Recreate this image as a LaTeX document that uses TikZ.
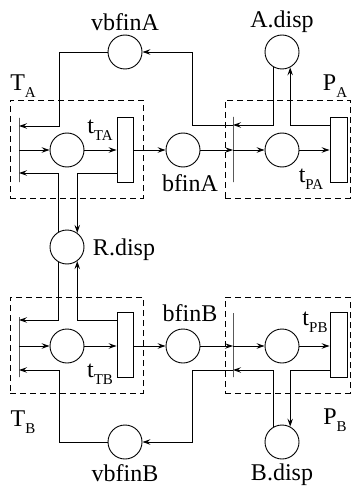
\documentclass[tikz,border=0pt]{standalone}
\usepackage{fontspec}
\setmainfont{Liberation Serif}
\usetikzlibrary{arrows.meta}
\newcommand\subl[1]{\raisebox{-7pt}{\fontsize{15}{15}\selectfont #1}}
\begin{document}
\begin{tikzpicture}[x=1pt,y=-1pt,line width=0.9pt,
  place/.style={circle,draw,minimum size=34pt,inner sep=0pt},
  trans/.style={rectangle,draw,minimum width=16pt,minimum height=65pt,inner sep=0pt},
  barT/.style={draw,minimum width=0pt,minimum height=64pt,inner sep=0pt},
  group/.style={draw,dash pattern=on 6pt off 4pt,line width=0.9pt,inner sep=0pt},
  lbl/.style={inner sep=0pt,font=\fontsize{24}{26}\selectfont},
  arr/.style={-{Stealth[length=8pt,width=5.5pt,inset=3pt]}}]
\useasboundingbox (0,0) rectangle (355,489);
% groups
\node[group,minimum width=133pt,minimum height=98pt] (TA) at (76.5,149) {};
\node[group,minimum width=125pt,minimum height=98pt] (PA) at (287.5,149) {};
\node[group,minimum width=133pt,minimum height=96pt] (TB) at (76.5,345) {};
\node[group,minimum width=125pt,minimum height=96pt] (PB) at (287.5,345) {};
% places
\node[place] (vbfinA) at (125,52) {};
\node[place] (Adisp) at (282,52) {};
\node[place] (circTA) at (67,150) {};
\node[place] (bfinA) at (183,150) {};
\node[place] (circPA) at (282,150) {};
\node[place] (Rdisp) at (67,247) {};
\node[place] (circTB) at (67,346) {};
\node[place] (bfinB) at (183,346) {};
\node[place] (circPB) at (282,346) {};
\node[place] (vbfinB) at (125,442) {};
\node[place] (Bdisp) at (282,442) {};
% transitions
\node[trans] (rectTA) at (125,150) {};
\node[trans,minimum width=17pt] (rectPA) at (338.5,149.5) {};
\node[trans] (rectTB) at (125,344.5) {};
\node[trans,minimum width=17pt] (rectPB) at (338.5,344.5) {};
\node[barT] (barTA) at (19,150) {};
\node[barT,minimum height=65pt] (barPA) at (233,149.5) {};
\node[barT,minimum height=60pt] (barTB) at (19,347) {};
\node[barT] (barPB) at (233,345) {};
% labels
\node[lbl] (vbfinAl) at (125,22) {vbfinA};
\node[lbl] (Adispl) at (282,22) {A.disp};
\node[lbl] (TAl) at (23,86) {T\subl{A}};
\node[lbl] (PAl) at (335,86) {P\subl{A}};
\node[lbl] (tTAl) at (100,130) {t\subl{TA}};
\node[lbl] (tPAl) at (311,179) {t\subl{PA}};
\node[lbl] (bfinAl) at (190,183) {bfinA};
\node[lbl] (Rdispl) at (124,250) {R.disp};
\node[lbl] (bfinBl) at (190,313) {bfinB};
\node[lbl] (tTBl) at (100,374) {t\subl{TB}};
\node[lbl] (tPBl) at (315,322) {t\subl{PB}};
\node[lbl] (TBl) at (23,422) {T\subl{B}};
\node[lbl] (PBl) at (335,420) {P\subl{B}};
\node[lbl] (vbfinBl) at (125,473) {vbfinB};
\node[lbl] (Bdispl) at (282,475) {B.disp};
% T_A arcs
\draw[arr] (vbfinA.west) -| (59,126) -- (barTA.center |- 0,126);
\draw[arr] (barTA.center) -- (circTA.west);
\draw[arr] (circTA.east) -- (rectTA.west);
\draw[arr] (rectTA.east) -- (bfinA.west);
\draw[arr] (Rdisp.118) |- (barTA.center |- 0,173);
\draw[arr] (rectTA.west |- 0,173) -| (Rdisp.54);
% P_A arcs
\draw[arr] (bfinA.east) -- (barPA.center |- bfinA.east);
\draw[arr] (barPA.center |- circPA.west) -- (circPA.west);
\draw[arr] (circPA.east) -- (rectPA.west |- circPA.east);
\draw[arr] (Adisp.242) |- (barPA.center |- 0,125);
\draw[arr] (barPA.center |- 0,125) -- (192,125) |- (vbfinA.east);
\draw[arr] (rectPA.west |- 0,125) -| (Adisp.298);
% T_B arcs
\draw[arr] (Rdisp.242) |- (barTB.center |- 0,320);
\draw[arr] (rectTB.west |- 0,320) -| (Rdisp.306);
\draw[arr] (barTB.center |- circTB.west) -- (circTB.west);
\draw[arr] (circTB.east) -- (rectTB.west |- circTB.east);
\draw[arr] (rectTB.east |- bfinB.west) -- (bfinB.west);
\draw[arr] (vbfinB.west) -| (59,370) -- (barTB.center |- 0,370);
% P_B arcs
\draw[arr] (bfinB.east) -- (barPB.center |- bfinB.east);
\draw[arr] (barPB.center |- circPB.west) -- (circPB.west);
\draw[arr] (circPB.east) -- (rectPB.west |- circPB.east);
\draw[arr] (Bdisp.118) |- (barPB.center |- 0,370);
\draw[arr] (barPB.center |- 0,370) -- (192,370) |- (vbfinB.east);
\draw[arr] (rectPB.west |- 0,370) -| (Bdisp.62);
\end{tikzpicture}
\end{document}
